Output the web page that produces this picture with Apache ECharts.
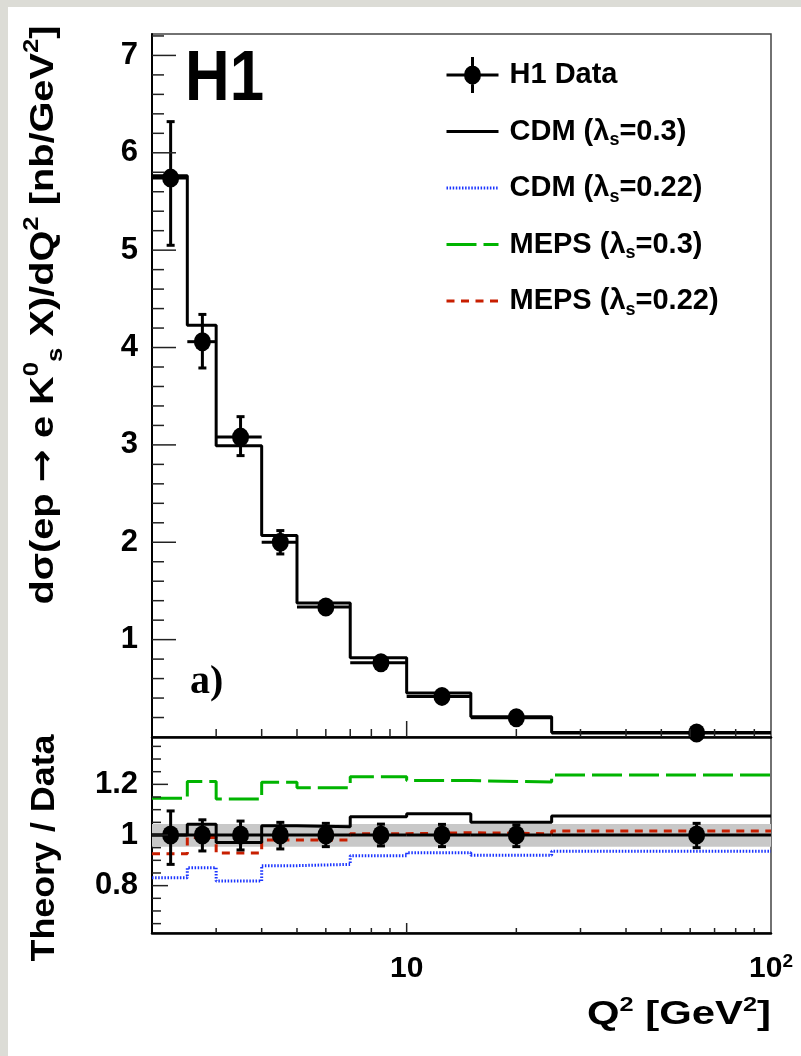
<!DOCTYPE html>
<html>
<head>
<meta charset="utf-8">
<script src="https://cdn.jsdelivr.net/npm/echarts@6/dist/echarts.min.js"></script>
<style>
html,body{margin:0;padding:0;width:801px;height:1056px;background:#dcdcd6;overflow:hidden;}
#paper{position:absolute;left:8px;top:7px;width:793px;height:1049px;background:#ffffff;}
#chart{position:absolute;left:0;top:0;width:801px;height:1056px;}
</style>
</head>
<body>
<div id="paper"></div>
<div id="chart"></div>
<script>
// ---------------- data ----------------
const binEdges   = [2, 2.5, 3, 4, 5, 7, 10, 15, 25, 100];
const q2Centers  = [2.25, 2.75, 3.5, 4.5, 6, 8.5, 12.5, 20, 62.5];
const xsec       = [5.74, 4.06, 3.08, 2.00, 1.335, 0.763, 0.417, 0.198, 0.042];
const xsecHi     = [6.32, 4.34, 3.29, 2.12, 1.40, 0.80, 0.436, 0.207, 0.045];
const xsecLo     = [5.05, 3.79, 2.89, 1.88, 1.28, 0.733, 0.398, 0.189, 0.039];
const cdm03Top   = [5.765, 4.23, 2.99, 2.07, 1.376, 0.815, 0.451, 0.209, 0.045];

const ratioData  = [1, 1, 1, 1, 1, 1, 1, 1, 1];
const ratioHi    = [1.095, 1.060, 1.055, 1.050, 1.046, 1.043, 1.042, 1.040, 1.046];
const ratioLo    = [0.884, 0.937, 0.941, 0.945, 0.954, 0.957, 0.954, 0.954, 0.950];
const rCdm03     = [1.000, 1.042, 0.970, 1.037, 1.033, 1.072, 1.084, 1.050, 1.075];
const rCdm022    = [0.831, 0.871, 0.818, 0.879, 0.884, 0.918, 0.930, 0.920, 0.936];
const rMeps03    = [1.145, 1.211, 1.142, 1.208, 1.187, 1.230, 1.215, 1.209, 1.237];
const rMeps022   = [0.926, 0.990, 0.929, 0.980, 0.980, 1.005, 1.009, 1.005, 1.016];
const normBand   = [0.954, 1.043];

const xRange      = [2, 100];
const yRangeTop   = [0, 7.22];
const yRangeRatio = [0.613, 1.387];
const yLabelsTop   = [1, 2, 3, 4, 5, 6, 7];
const yLabelsRatio = [0.8, 1, 1.2];
const xTickVals    = [3, 4, 5, 6, 7, 8, 9, 10, 20, 30, 40, 50, 60, 70, 80, 90];
const yTickStepTop = 0.2;
const yTickStepRatio = 0.05;

// ---------------- helpers ----------------
const FONT = '"Liberation Sans", Arial, Helvetica, sans-serif';
const SERIF = '"Liberation Serif", "Times New Roman", serif';
const ARROWFONT = '"DejaVu Sans", "Liberation Sans", sans-serif';
const GREEN = '#00b400', RED = '#c81e00', BLUE = '#1a34ff';

function stepData(vals) {
  const d = vals.map((v, i) => [binEdges[i], v]);
  d.push([binEdges[vals.length], vals[vals.length - 1]]);
  return d;
}
function errData(ys, lo, hi) {
  return q2Centers.map((x, i) => [x, ys[i], lo[i], hi[i], binEdges[i], binEdges[i + 1]]);
}
function errRender(params, api) {
  const x = api.value(0), y = api.value(1), ylo = api.value(2), yhi = api.value(3);
  const xlo = api.value(4), xhi = api.value(5);
  const c = api.coord([x, y]);
  const l = api.coord([xlo, y]), r = api.coord([xhi, y]);
  const b = api.coord([x, ylo]), t = api.coord([x, yhi]);
  const st = {stroke: '#000', lineWidth: 3};
  const cap = 4;
  return {type: 'group', children: [
    {type: 'line', shape: {x1: l[0], y1: c[1], x2: r[0], y2: c[1]}, style: st},
    {type: 'line', shape: {x1: c[0], y1: t[1], x2: c[0], y2: b[1]}, style: st},
    {type: 'line', shape: {x1: c[0] - cap, y1: t[1], x2: c[0] + cap, y2: t[1]}, style: st},
    {type: 'line', shape: {x1: c[0] - cap, y1: b[1], x2: c[0] + cap, y2: b[1]}, style: st}
  ]};
}
function xTickRender(minorLen, majorLen) {
  return function (params, api) {
    const v = api.value(0);
    const cs = params.coordSys;
    const x = api.coord([v, api.value(1)])[0];
    const lg = Math.log10(v);
    const major = Math.abs(lg - Math.round(lg)) < 1e-9;
    const L = major ? majorLen : minorLen;
    const yb = cs.y + cs.height;
    return {type: 'line', shape: {x1: x, y1: yb, x2: x, y2: yb - L}, style: {stroke: '#222', lineWidth: 1.5}};
  };
}
function yTickRender(majors, minorLen, majorLen) {
  return function (params, api) {
    const v = api.value(1);
    const cs = params.coordSys;
    const y = api.coord([api.value(0), v])[1];
    const major = majors.some(m => Math.abs(m - v) < 1e-6);
    const L = major ? majorLen : minorLen;
    return {type: 'line', shape: {x1: cs.x, y1: y, x2: cs.x + L, y2: y}, style: {stroke: '#222', lineWidth: 1.5}};
  };
}
function bandRender(params, api) {
  const p0 = api.coord([api.value(0), api.value(3)]);
  const p1 = api.coord([api.value(2), api.value(1)]);
  return {type: 'rect', shape: {x: p0[0], y: p0[1], width: p1[0] - p0[0], height: p1[1] - p0[1]},
          style: {fill: '#c8c8c8'}};
}
const yTicksTop = [];
for (let k = 1; k * yTickStepTop <= yRangeTop[1] + 1e-9; k++) yTicksTop.push([xRange[0], +(k * yTickStepTop).toFixed(3)]);
const yTicksRatio = [];
for (let k = 1; k * yTickStepRatio < yRangeRatio[1]; k++) {
  const v = +(k * yTickStepRatio).toFixed(3);
  if (v > yRangeRatio[0]) yTicksRatio.push([xRange[0], v]);
}

// text measurement for horizontal scaling of titles
const mctx = document.createElement('canvas').getContext('2d');
function measure(parts) {
  let w = 0;
  for (const p of parts) { mctx.font = 'bold ' + p[1] + 'px ' + (p[2] || FONT); w += mctx.measureText(p[0]).width; }
  return w;
}
const sH1 = 79 / measure([['H1', 70]]);
const sXT = 184 / measure([['Q', 33], ['2', 20], [' [GeV', 33], ['2', 20], [']', 33]]);
const sYT = 579 / measure([['dσ(ep ', 34], ['→', 34, ARROWFONT], [' e K', 34], ['0', 22], ['s', 22], [' X)/dQ', 34], ['2', 22], [' [nb/GeV', 34], ['2', 22], [']', 34]]);
const sRT = 227 / measure([['Theory / Data', 33]]);

const legendLabels = {
  'H1 Data':   '{t|H1 Data}',
  'CDM 0.3':   '{t|CDM (λ}{s|s}{t|=0.3)}',
  'CDM 0.22':  '{t|CDM (λ}{s|s}{t|=0.22)}',
  'MEPS 0.3':  '{t|MEPS (λ}{s|s}{t|=0.3)}',
  'MEPS 0.22': '{t|MEPS (λ}{s|s}{t|=0.22)}'
};
const dataIcon = 'path://M0 16.5 H52 V19.5 H0 Z M24.5 0 H27.5 V36 H24.5 Z M17.5 18 A8.5 9.5 0 1 1 34.5 18 A8.5 9.5 0 1 1 17.5 18 Z';
const noSymbol = {color: 'rgba(0,0,0,0)', opacity: 0, borderWidth: 0};

const chart = echarts.init(document.getElementById('chart'), null, {renderer: 'canvas'});

const axisLineBlack = {show: true, onZero: false, lineStyle: {color: '#000', width: 2.5}};
const option = {
  animation: false,
  backgroundColor: 'transparent',
  textStyle: {fontFamily: FONT},
  grid: [
    {left: 152, top: 34, width: 619, height: 703, show: true, borderColor: '#444', borderWidth: 1.5, backgroundColor: 'transparent'},
    {left: 152, top: 737, width: 619, height: 196, show: true, borderColor: '#444', borderWidth: 1.5, backgroundColor: 'transparent'}
  ],
  xAxis: [
    {gridIndex: 0, type: 'log', logBase: 10, min: xRange[0], max: xRange[1],
     axisLine: axisLineBlack, axisTick: {show: false}, axisLabel: {show: false}, splitLine: {show: false}},
    {gridIndex: 1, type: 'log', logBase: 10, min: xRange[0], max: xRange[1],
     axisLine: axisLineBlack, axisTick: {show: false}, splitLine: {show: false},
     axisLabel: {show: true, margin: 19, color: '#000',
       formatter: function (v) { const r = Math.round(v); if (r === 10) return '{b|10}'; if (r === 100) return '{b|10}{p|2}'; return ''; },
       rich: {b: {fontSize: 30, fontWeight: 'bold', fontFamily: FONT, color: '#000', lineHeight: 34},
              p: {fontSize: 19, fontWeight: 'bold', fontFamily: FONT, color: '#000', lineHeight: 12, verticalAlign: 'top'}}}}
  ],
  yAxis: [
    {gridIndex: 0, type: 'value', min: yRangeTop[0], max: yRangeTop[1], interval: 1,
     axisLine: {show: true, lineStyle: {color: '#000', width: 2}}, axisTick: {show: false}, splitLine: {show: false},
     axisLabel: {margin: 14, fontSize: 31, fontWeight: 'bold', fontFamily: FONT, color: '#000',
       customValues: yLabelsTop,
       formatter: function (v) { return yLabelsTop.some(t => Math.abs(t - v) < 1e-6) ? String(Math.round(v)) : ''; }}},
    {gridIndex: 1, type: 'value', min: yRangeRatio[0], max: yRangeRatio[1],
     axisLine: {show: true, lineStyle: {color: '#000', width: 2}}, axisTick: {show: false}, splitLine: {show: false},
     axisLabel: {margin: 14, fontSize: 31, fontWeight: 'bold', fontFamily: FONT, color: '#000',
       customValues: yLabelsRatio,
       formatter: function (v) { return yLabelsRatio.some(t => Math.abs(t - v) < 1e-6) ? String(+v.toFixed(2)) : ''; }}}
  ],
  legend: {
    orient: 'vertical', left: 445, top: 57, padding: 0, itemWidth: 52, itemHeight: 36, itemGap: 24,
    selectedMode: false,
    data: [
      {name: 'H1 Data', icon: dataIcon},
      {name: 'CDM 0.3', itemStyle: noSymbol, lineStyle: {width: 3}},
      {name: 'CDM 0.22', itemStyle: noSymbol, lineStyle: {width: 3}},
      {name: 'MEPS 0.3', itemStyle: noSymbol, lineStyle: {width: 3}},
      {name: 'MEPS 0.22', itemStyle: noSymbol, lineStyle: {width: 3}}
    ],
    formatter: function (n) { return legendLabels[n]; },
    textStyle: {padding: [0, 0, 0, 6], color: '#000',
      rich: {t: {fontSize: 29, fontWeight: 'bold', fontFamily: FONT, color: '#000', lineHeight: 36},
             s: {fontSize: 18, fontWeight: 'bold', fontFamily: FONT, color: '#000', lineHeight: 13, verticalAlign: 'bottom'}}}
  },
  series: [
    // ----- top panel -----
    {type: 'line', name: 'CDM 0.3', xAxisIndex: 0, yAxisIndex: 0, data: stepData(cdm03Top), step: 'end',
     symbol: 'none', lineStyle: {color: '#000', width: 3}, itemStyle: {color: '#000'}, z: 3},
    {type: 'custom', name: 'errTop', xAxisIndex: 0, yAxisIndex: 0, renderItem: errRender,
     data: errData(xsec, xsecLo, xsecHi), z: 4},
    {type: 'scatter', name: 'H1 Data', xAxisIndex: 0, yAxisIndex: 0,
     data: q2Centers.map((x, i) => [x, xsec[i]]), symbol: 'circle', symbolSize: [17, 19],
     itemStyle: {color: '#000', opacity: 1}, z: 5},
    {type: 'custom', name: 'xTicksTop', xAxisIndex: 0, yAxisIndex: 0, renderItem: xTickRender(8, 16),
     data: xTickVals.map(v => [v, yRangeTop[0]]), z: 6, silent: true},
    {type: 'custom', name: 'yTicksTop', xAxisIndex: 0, yAxisIndex: 0, renderItem: yTickRender(yLabelsTop, 12, 24),
     data: yTicksTop, z: 6, silent: true},
    // ----- ratio panel -----
    {type: 'custom', name: 'normBand', xAxisIndex: 1, yAxisIndex: 1, renderItem: bandRender,
     data: [[xRange[0], normBand[0], xRange[1], normBand[1]]], z: 1, silent: true},
    {type: 'line', name: 'MEPS 0.3', xAxisIndex: 1, yAxisIndex: 1, data: stepData(rMeps03), step: 'end',
     symbol: 'none', lineStyle: {color: GREEN, width: 3, type: [30, 7]}, itemStyle: {color: GREEN}, z: 2},
    {type: 'line', name: 'MEPS 0.22', xAxisIndex: 1, yAxisIndex: 1, data: stepData(rMeps022), step: 'end',
     symbol: 'none', lineStyle: {color: RED, width: 3, type: [8, 6.5]}, itemStyle: {color: RED}, z: 2},
    {type: 'line', name: 'CDM 0.22', xAxisIndex: 1, yAxisIndex: 1, data: stepData(rCdm022), step: 'end',
     symbol: 'none', lineStyle: {color: BLUE, width: 3, type: [1.5, 1.6]}, itemStyle: {color: BLUE}, z: 2},
    {type: 'line', name: 'CDM 0.3', xAxisIndex: 1, yAxisIndex: 1, data: stepData(rCdm03), step: 'end',
     symbol: 'none', lineStyle: {color: '#000', width: 3}, itemStyle: {color: '#000'}, z: 3},
    {type: 'custom', name: 'errRatio', xAxisIndex: 1, yAxisIndex: 1, renderItem: errRender,
     data: errData(ratioData, ratioLo, ratioHi), z: 4},
    {type: 'scatter', name: 'H1 Data', xAxisIndex: 1, yAxisIndex: 1,
     data: q2Centers.map((x, i) => [x, ratioData[i]]), symbol: 'circle', symbolSize: [17, 19],
     itemStyle: {color: '#000', opacity: 1}, z: 5},
    {type: 'custom', name: 'xTicksRatio', xAxisIndex: 1, yAxisIndex: 1, renderItem: xTickRender(5, 10),
     data: xTickVals.map(v => [v, 1]), z: 6, silent: true},
    {type: 'custom', name: 'yTicksRatio', xAxisIndex: 1, yAxisIndex: 1, renderItem: yTickRender(yLabelsRatio, 9, 16),
     data: yTicksRatio, z: 6, silent: true}
  ],
  graphic: [
    {type: 'text', x: 185, y: 81, scaleX: sH1, silent: true,
     style: {text: 'H1', fontSize: 70, fontWeight: 'bold', fontFamily: FONT, fill: '#000', align: 'left', verticalAlign: 'middle'}},
    {type: 'text', x: 190, y: 683, silent: true,
     style: {text: 'a)', fontSize: 40, fontWeight: 'bold', fontFamily: SERIF, fill: '#000', align: 'left', verticalAlign: 'middle'}},
    {type: 'text', x: 771, y: 1015, scaleX: sXT, silent: true,
     style: {text: '{m|Q}{p|2}{m| [GeV}{p|2}{m|]}', align: 'right', verticalAlign: 'middle',
       rich: {m: {fontSize: 33, fontWeight: 'bold', fontFamily: FONT, fill: '#000', lineHeight: 40},
              p: {fontSize: 20, fontWeight: 'bold', fontFamily: FONT, fill: '#000', lineHeight: 28, verticalAlign: 'top'}}}},
    {type: 'text', x: 44, y: 315, rotation: Math.PI / 2, scaleX: sYT, silent: true,
     style: {text: '{m|dσ(ep }{r|→}{m| e K}{p|0}{b|s}{m| X)/dQ}{p|2}{m| [nb/GeV}{p|2}{m|]}', align: 'center', verticalAlign: 'middle',
       rich: {m: {fontSize: 34, fontWeight: 'bold', fontFamily: FONT, fill: '#000', lineHeight: 46},
              r: {fontSize: 34, fontWeight: 'bold', fontFamily: ARROWFONT, fill: '#000', lineHeight: 46},
              p: {fontSize: 22, fontWeight: 'bold', fontFamily: FONT, fill: '#000', lineHeight: 26, verticalAlign: 'top'},
              b: {fontSize: 22, fontWeight: 'bold', fontFamily: FONT, fill: '#000', lineHeight: 26, verticalAlign: 'bottom'}}}},
    {type: 'text', x: 45, y: 848, rotation: Math.PI / 2, scaleX: sRT, silent: true,
     style: {text: 'Theory / Data', fontSize: 33, fontWeight: 'bold', fontFamily: FONT, fill: '#000', align: 'center', verticalAlign: 'middle'}}
  ]
};
chart.setOption(option);
</script>
</body>
</html>
